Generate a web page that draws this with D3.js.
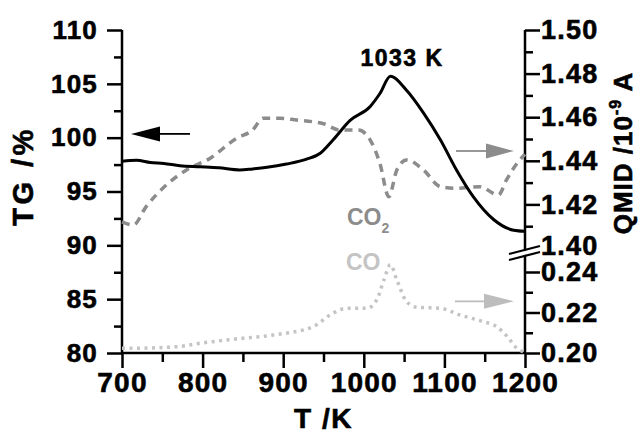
<!DOCTYPE html>
<html>
<head>
<meta charset="utf-8">
<script src="https://cdn.jsdelivr.net/npm/d3@7"></script>
<style>
  body { margin: 0; background: #fff; }
  svg { display: block; font-family: "Liberation Sans", Arial, sans-serif; font-weight: bold; }
</style>
</head>
<body>
<div id="chart"></div>
<script>
// TG curve (left axis, %)
var tgT = [700, 718, 735, 752, 772, 797, 820, 846, 862, 880, 904, 929, 946, 962, 983, 1008, 1020, 1033, 1053, 1074, 1095, 1115, 1136, 1161, 1186, 1200];
var tgV = [97.8, 97.9, 97.7, 97.6, 97.4, 97.3, 97.2, 97.0, 97.1, 97.25, 97.55, 98.0, 98.55, 99.8, 101.6, 102.9, 104.1, 105.7, 104.4, 102.3, 99.8, 97.0, 94.5, 92.4, 91.4, 91.3];

// CO2 signal (right axis, upper part, 10^-9 A)
var co2T = [700, 714, 730, 755, 780, 809, 842, 862, 875, 896, 917, 937, 950, 970, 993, 1008, 1020, 1031, 1041, 1053, 1074, 1095, 1115, 1144, 1167, 1177, 1190, 1200];
var co2V = [1.412, 1.4106, 1.419, 1.4289, 1.4358, 1.4411, 1.4503, 1.4541, 1.4595, 1.4595, 1.4587, 1.4579, 1.457, 1.4541, 1.4541, 1.4495, 1.4388, 1.4235, 1.4358, 1.4404, 1.4358, 1.4281, 1.4274, 1.4281, 1.4243, 1.4312, 1.4388, 1.443];

// CO signal (right axis, lower part, 10^-9 A)
var coT = [700, 706, 768, 797, 838, 888, 937, 962, 979, 1004, 1016, 1025, 1033, 1041, 1053, 1066, 1095, 1119, 1148, 1165, 1178, 1190, 1198];
var coV = [0.2023, 0.2023, 0.2031, 0.2048, 0.2068, 0.2089, 0.213, 0.2197, 0.2221, 0.2221, 0.2262, 0.2361, 0.2436, 0.2361, 0.2254, 0.2226, 0.2221, 0.2188, 0.2155, 0.213, 0.2081, 0.2023, 0.2005];

// tick values
var xTicks = [700, 800, 900, 1000, 1100, 1200];
var xMinor = [750, 850, 950, 1050, 1150];
var yLTicks = [80, 85, 90, 95, 100, 105, 110];
var yLMinor = [82.5, 87.5, 92.5, 97.5, 102.5, 107.5];
var yR1Ticks = [1.42, 1.44, 1.46, 1.48, 1.50];
var yR1Minor = [1.41, 1.43, 1.45, 1.47, 1.49];
var yR2Ticks = [0.20, 0.22, 0.24];
var yR2Minor = [0.21, 0.23];

var width = 639, height = 433;
var svg = d3.select("#chart").append("svg").attr("width", width).attr("height", height);

// scales
var x = d3.scaleLinear().domain([700, 1200]).range([122, 525]);
var yL = d3.scaleLinear().domain([80, 110]).range([353, 30]);
var yR1 = d3.scaleLinear().domain([1.40, 1.50]).range([248, 30]);
var yR2 = d3.scaleLinear().domain([0.20, 0.24]).range([353, 272]);

// heavier text, like the scanned figure
function heavy(sel, color) {
  sel.attr("stroke", color).attr("stroke-width", 0.6);
}

function styleAxis(g, size) {
  g.select(".domain").remove();
  g.selectAll(".tick line").attr("stroke", "#000").attr("stroke-width", 2.5);
  g.selectAll(".tick text")
    .attr("fill", "#000")
    .attr("font-size", size + "px")
    .attr("font-weight", "bold")
    .attr("font-family", "Liberation Sans, Arial, sans-serif")
    .attr("letter-spacing", "1.2px")
    .call(heavy, "#000");
}

// bottom axis
svg.append("g").attr("transform", "translate(0,353)")
  .call(d3.axisBottom(x).tickValues(xMinor).tickSize(9).tickFormat(""))
  .call(styleAxis, 28);
svg.append("g").attr("transform", "translate(0,353)")
  .call(d3.axisBottom(x).tickValues(xTicks).tickSize(15).tickPadding(4).tickFormat(d3.format("d")))
  .call(styleAxis, 28);

// left axis
svg.append("g").attr("transform", "translate(122,0)")
  .call(d3.axisLeft(yL).tickValues(yLMinor).tickSize(8).tickFormat(""))
  .call(styleAxis, 26);
svg.append("g").attr("transform", "translate(122,0)")
  .call(d3.axisLeft(yL).tickValues(yLTicks).tickSize(15).tickPadding(9).tickFormat(d3.format("d")))
  .call(styleAxis, 26);

// right axis, two pieces
var fmt2 = d3.format(".2f");
svg.append("g").attr("transform", "translate(525,0)")
  .call(d3.axisRight(yR1).tickValues(yR1Minor).tickSize(8).tickFormat(""))
  .call(styleAxis, 27);
svg.append("g").attr("transform", "translate(525,0)")
  .call(d3.axisRight(yR1).tickValues(yR1Ticks).tickSize(15).tickPadding(1).tickFormat(fmt2))
  .call(styleAxis, 27);
svg.append("g").attr("transform", "translate(525,0)")
  .call(d3.axisRight(yR2).tickValues(yR2Minor).tickSize(8).tickFormat(""))
  .call(styleAxis, 27);
svg.append("g").attr("transform", "translate(525,0)")
  .call(d3.axisRight(yR2).tickValues(yR2Ticks).tickSize(15).tickPadding(1).tickFormat(fmt2))
  .call(styleAxis, 27);
// 1.40 label sits on the break
svg.append("text")
  .attr("x", 541).attr("y", yR1(1.40) - 2).attr("dy", "0.32em")
  .attr("font-size", "27px").attr("letter-spacing", "1.2px")
  .call(heavy, "#000")
  .text("1.40");

// axis lines (frame without top)
svg.append("path")
  .attr("d", "M" + x(700) + "," + yL(110) + "V" + yL(80) + "H" + x(1200) + "V" + yR1(1.50))
  .attr("fill", "none").attr("stroke", "#000").attr("stroke-width", 2.5);

// axis break marks
var by = yR1(1.40) + 5;
svg.append("path")
  .attr("d", "M509," + (by + 2) + "L540," + (by - 6) + "L540," + (by - 2) + "L509," + (by + 6) + "Z")
  .attr("fill", "#fff");
svg.append("line").attr("x1", 509).attr("y1", by + 1).attr("x2", 540).attr("y2", by - 7)
  .attr("stroke", "#000").attr("stroke-width", 2.2);
svg.append("line").attr("x1", 509).attr("y1", by + 7).attr("x2", 540).attr("y2", by - 1)
  .attr("stroke", "#000").attr("stroke-width", 2.2);

// lines
var tgData = tgT.map(function (t, i) { return [t, tgV[i]]; });
var co2Data = co2T.map(function (t, i) { return [t, co2V[i]]; });
var coData = coT.map(function (t, i) { return [t, coV[i]]; });

svg.append("path").datum(coData)
  .attr("d", d3.line().x(function (d) { return x(d[0]); }).y(function (d) { return yR2(d[1]); }).curve(d3.curveMonotoneX))
  .attr("fill", "none").attr("stroke", "#c4c4c4").attr("stroke-width", 3.5)
  .attr("stroke-dasharray", "3 4.5").attr("stroke-linecap", "butt");

svg.append("path").datum(co2Data)
  .attr("d", d3.line().x(function (d) { return x(d[0]); }).y(function (d) { return yR1(d[1]); }).curve(d3.curveMonotoneX))
  .attr("fill", "none").attr("stroke", "#8c8c8c").attr("stroke-width", 3.5)
  .attr("stroke-dasharray", "8 6");

svg.append("path").datum(tgData)
  .attr("d", d3.line().x(function (d) { return x(d[0]); }).y(function (d) { return yL(d[1]); }).curve(d3.curveMonotoneX))
  .attr("fill", "none").attr("stroke", "#000").attr("stroke-width", 3);

// arrows
function arrow(x0, x1, y, color, headW) {
  var dir = x1 > x0 ? 1 : -1;
  var base = x1 - dir * headW;
  svg.append("line").attr("x1", x0).attr("y1", y).attr("x2", base).attr("y2", y)
    .attr("stroke", color).attr("stroke-width", 1.8);
  svg.append("path")
    .attr("d", "M" + x1 + "," + y + "L" + base + "," + (y - 7.5) + "L" + base + "," + (y + 7.5) + "Z")
    .attr("fill", color);
}
arrow(190, 131, yL(100.35), "#000", 29);
arrow(456, 514, yR1(1.4445), "#8c8c8c", 28);
arrow(455, 514, yR2(0.2255), "#bdbdbd", 30);

// labels
svg.append("text").attr("x", 402).attr("y", 66)
  .attr("text-anchor", "middle").attr("font-size", "23px").attr("letter-spacing", "1.5px")
  .call(heavy, "#000")
  .text("1033 K");

var co2Label = svg.append("text").attr("x", 347).attr("y", 225)
  .attr("font-size", "23px").attr("fill", "#8c8c8c");
co2Label.append("tspan").text("CO");
co2Label.append("tspan").attr("font-size", "14px").attr("dy", 8).text("2");

svg.append("text").attr("x", 346).attr("y", 270)
  .attr("font-size", "23px").attr("fill", "#c4c4c4")
  .text("CO");

// axis titles
svg.append("text").attr("x", x(950)).attr("y", 428)
  .attr("text-anchor", "middle").attr("font-size", "28px").attr("letter-spacing", "1.5px")
  .call(heavy, "#000")
  .text("T /K");

svg.append("text")
  .attr("transform", "translate(33,176) rotate(-90)")
  .attr("text-anchor", "middle").attr("font-size", "29px").attr("letter-spacing", "3.5px")
  .call(heavy, "#000")
  .text("TG /%");

var rTitle = svg.append("text")
  .attr("transform", "translate(632,153) rotate(-90)")
  .attr("text-anchor", "middle").attr("font-size", "26px").attr("letter-spacing", "1px")
  .call(heavy, "#000");
rTitle.append("tspan").text("QMID /10");
rTitle.append("tspan").attr("font-size", "16px").attr("dy", -11).text("-9");
rTitle.append("tspan").attr("dy", 11).text(" A");
</script>
</body>
</html>
